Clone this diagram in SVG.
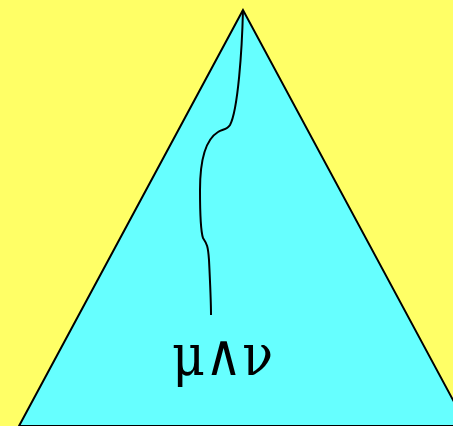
<svg xmlns="http://www.w3.org/2000/svg" width="453" height="426" viewBox="0 0 453 426">
<style>
.shape{fill:#66FFFF;stroke:#000;stroke-width:2;stroke-linejoin:miter}
.conn{fill:none;stroke:#000;stroke-width:2}
.lbl{font-family:"DejaVu Serif","Liberation Serif",serif;font-size:58px;fill:#000}
</style>
<rect x="0" y="0" width="453" height="426" fill="#FFFF66"/>
<g id="triangle">
<polygon class="shape" points="243,10 19,426 467,426"/>
</g>
<g id="connectors">
<path class="conn" d="M243,10 C242,50 238,110 230,125 C227,130 222,129 218,132 C205,140 200,160 200,190 C200,215 201,232 203,238 C207,244 208,246 209,260 C210,280 211,300 211,315"/>
</g>
<g id="label">
<text class="lbl" x="172" y="375" textLength="101" lengthAdjust="spacingAndGlyphs">μ∧ν</text>
</g>
</svg>
